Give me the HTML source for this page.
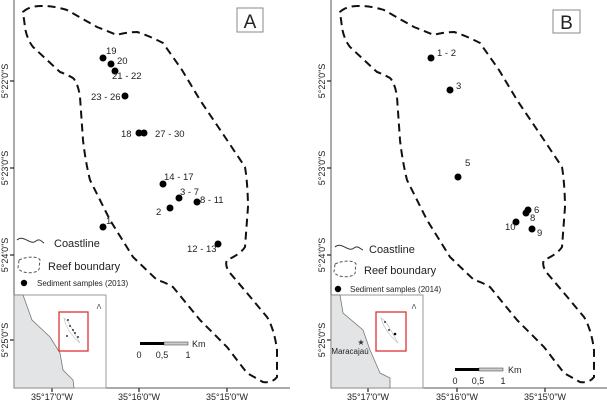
<!DOCTYPE html>
<html><head><meta charset="utf-8"><style>
html,body{margin:0;padding:0;background:#fff;}
svg{display:block;font-family:"Liberation Sans",Arial,sans-serif;}
</style></head><body>
<svg width="607" height="402" viewBox="0 0 607 402" xmlns="http://www.w3.org/2000/svg">
<defs>
<path id="reef" d="M23,12 C30,5 43,6 43,6 C55,6 67,10 67,10 L97,27 L117,35 C125,32 137,32 137,32 C150,36 163,43 163,43 L182,70 L200,100 L227,140 L245,167 C248,185 248,207 248,207 L245,247 C240,255 227,260 227,260 C224,266 230,273 230,273 L247,293 L267,317 C275,330 277,350 277,350 L277,377 C272,384 263,382 263,382 L247,373 L227,347 L200,320 L173,287 C165,282 157,280 157,280 L133,257 L110,220 L90,180 C85,160 83,140 83,140 L80,97 C78,82 73,78 73,78 C66,74 60,72 60,72 L33,47 C26,38 25,27 25,27 Z" fill="none" stroke="#111" stroke-width="2" stroke-dasharray="8,5"/>
</defs>
<g stroke="#555" stroke-width="1" fill="none">
<line x1="14" y1="0" x2="14" y2="388"/><line x1="14" y1="388" x2="290" y2="388"/>
<line x1="331" y1="0" x2="331" y2="388"/><line x1="331" y1="388" x2="607" y2="388"/>
</g>
<g stroke="#222" stroke-width="1.2">
<line x1="10" y1="81" x2="14" y2="81"/><line x1="10" y1="168" x2="14" y2="168"/><line x1="10" y1="255" x2="14" y2="255"/><line x1="10" y1="340" x2="14" y2="340"/>
<line x1="52" y1="388" x2="52" y2="392"/><line x1="139" y1="388" x2="139" y2="392"/><line x1="227" y1="388" x2="227" y2="392"/>
<line x1="327" y1="81" x2="331" y2="81"/><line x1="327" y1="168" x2="331" y2="168"/><line x1="327" y1="255" x2="331" y2="255"/><line x1="327" y1="340" x2="331" y2="340"/>
<line x1="368" y1="388" x2="368" y2="392"/><line x1="457" y1="388" x2="457" y2="392"/><line x1="545" y1="388" x2="545" y2="392"/>
</g>
<g font-size="9" fill="#222" text-anchor="middle">
<text x="52" y="400">35°17'0"W</text><text x="139" y="400">35°16'0"W</text><text x="227" y="400">35°15'0"W</text>
<text x="368" y="400">35°17'0"W</text><text x="457" y="400">35°16'0"W</text><text x="545" y="400">35°15'0"W</text>
<text transform="translate(8,81) rotate(-90)">5°22'0"S</text><text transform="translate(8,168) rotate(-90)">5°23'0"S</text><text transform="translate(8,255) rotate(-90)">5°24'0"S</text><text transform="translate(8,340) rotate(-90)">5°25'0"S</text>
<text transform="translate(325,81) rotate(-90)">5°22'0"S</text><text transform="translate(325,168) rotate(-90)">5°23'0"S</text><text transform="translate(325,255) rotate(-90)">5°24'0"S</text><text transform="translate(325,340) rotate(-90)">5°25'0"S</text>
</g>
<use href="#reef"/>
<use href="#reef" transform="translate(317,0)"/>
<rect x="237" y="8" width="26" height="24" fill="#fff" stroke="#888"/>
<text x="250" y="28" font-size="19" text-anchor="middle" fill="#222">A</text>
<rect x="553" y="10" width="27" height="23" fill="#fff" stroke="#888"/>
<text x="566.5" y="29" font-size="19" text-anchor="middle" fill="#222">B</text>
<g fill="#000">
<circle cx="103" cy="58" r="3.5"/><circle cx="111" cy="64" r="3.5"/><circle cx="115" cy="71" r="3.5"/><circle cx="125" cy="96" r="3.5"/>
<circle cx="139" cy="133" r="3.5"/><circle cx="144" cy="133" r="3.5"/><circle cx="163" cy="184" r="3.5"/><circle cx="179" cy="198" r="3.5"/>
<circle cx="197" cy="202" r="3.5"/><circle cx="170" cy="208" r="3.5"/><circle cx="103" cy="227" r="3.5"/><circle cx="218" cy="244" r="3.5"/>
<circle cx="431" cy="58" r="3.5"/><circle cx="450" cy="90" r="3.5"/><circle cx="458" cy="177" r="3.5"/><circle cx="528" cy="210" r="3.5"/>
<circle cx="526" cy="213" r="3.5"/><circle cx="516" cy="222" r="3.5"/><circle cx="532" cy="229" r="3.5"/>
</g>
<g font-size="9.5" fill="#222">
<text x="106" y="54">19</text><text x="117" y="64">20</text><text x="112" y="79">21 - 22</text><text x="91" y="100">23 - 26</text>
<text x="121" y="137">18</text><text x="155" y="137">27 - 30</text><text x="164" y="180">14 - 17</text><text x="180" y="195">3 - 7</text>
<text x="200" y="203">8 - 11</text><text x="156" y="215">2</text><text x="106" y="224">1</text><text x="187" y="252">12 - 13</text>
<text x="437" y="56">1 - 2</text><text x="456" y="89">3</text><text x="465" y="166">5</text><text x="534" y="213">6</text>
<text x="530" y="221">8</text><text x="505" y="230">10</text><text x="537" y="236">9</text>
</g>
<path d="M17,240 C24,234 30,246 36,241 C40,238 42,242 44,243" fill="none" stroke="#333" stroke-width="1"/>
<text x="54" y="247" font-size="11" fill="#222">Coastline</text>
<path d="M19,260 C30,255 42,257 40,262 C38,266 42,270 35,272 C28,274 20,272 18,268 Z" fill="none" stroke="#555" stroke-dasharray="3,2"/>
<text x="48" y="270" font-size="11" fill="#222">Reef boundary</text>
<circle cx="24" cy="283" r="3.2" fill="#000"/>
<text x="37" y="286" font-size="8" fill="#222">Sediment samples (2013)</text>
<path d="M335,247 C342,241 348,253 354,248 C358,245 360,249 363,250" fill="none" stroke="#333" stroke-width="1"/>
<text x="369" y="253" font-size="11" fill="#222">Coastline</text>
<path d="M335,264 C346,259 358,261 356,266 C354,270 358,274 351,276 C344,278 336,276 334,272 Z" fill="none" stroke="#555" stroke-dasharray="3,2"/>
<text x="364" y="274" font-size="11" fill="#222">Reef boundary</text>
<circle cx="338" cy="289" r="3.2" fill="#000"/>
<text x="350" y="292" font-size="8" fill="#222">Sediment samples (2014)</text>
<rect x="14" y="295" width="92" height="93" fill="#fff" stroke="#999"/>
<path d="M14,295 L23,295 L32,320 L50,337 L60,353 L63,370 L73,380 L74,388 L14,388 Z" fill="#e3e4e6" stroke="#777" stroke-width="0.8"/>
<rect x="59" y="312" width="29" height="39" fill="none" stroke="#d33" stroke-width="1.3"/>
<path d="M64,318 C70,322 72,330 80,343 C76,340 66,330 64,318Z" fill="none" stroke="#bbb" stroke-width="0.6"/>
<g fill="#000"><circle cx="68" cy="320" r="0.9"/><circle cx="70" cy="326" r="0.9"/><circle cx="73" cy="330" r="0.9"/><circle cx="75" cy="333" r="0.9"/><circle cx="78" cy="337" r="0.9"/><circle cx="67" cy="336" r="0.9"/></g>
<text x="99" y="309" font-size="7" text-anchor="middle" fill="#444">Ʌ</text>
<rect x="331" y="295" width="92" height="93" fill="#fff" stroke="#999"/>
<path d="M331,295 L340,295 L343,313 L363,330 L370,350 L380,373 L390,378 L390,388 L331,388 Z" fill="#e3e4e6" stroke="#777" stroke-width="0.8"/>
<rect x="376" y="312" width="30" height="39" fill="none" stroke="#d33" stroke-width="1.3"/>
<path d="M381,318 C388,322 390,330 398,343 C394,340 384,330 381,318Z" fill="none" stroke="#bbb" stroke-width="0.6"/>
<g fill="#000"><circle cx="385" cy="322" r="0.9"/><circle cx="389" cy="330" r="0.9"/><circle cx="395" cy="334" r="1.3"/></g>
<text x="414" y="309" font-size="7" text-anchor="middle" fill="#444">Ʌ</text>
<text x="361" y="345" font-size="8" text-anchor="middle" fill="#333">★</text>
<text x="350" y="354" font-size="8" text-anchor="middle" fill="#222">Maracajaú</text>
<rect x="140" y="342" width="24" height="3" fill="#000"/><rect x="164" y="342" width="24" height="3" fill="#ccc" stroke="#333" stroke-width="0.5"/>
<text x="192" y="347" font-size="9" fill="#222">Km</text>
<g font-size="9" fill="#222" text-anchor="middle"><text x="139" y="358">0</text><text x="162" y="358">0,5</text><text x="188" y="358">1</text></g>
<rect x="455" y="368" width="24" height="3" fill="#000"/><rect x="479" y="368" width="24" height="3" fill="#ccc" stroke="#333" stroke-width="0.5"/>
<text x="508" y="373" font-size="9" fill="#222">Km</text>
<g font-size="9" fill="#222" text-anchor="middle"><text x="455" y="384">0</text><text x="478" y="384">0,5</text><text x="503" y="384">1</text></g>
</svg>
</body></html>
